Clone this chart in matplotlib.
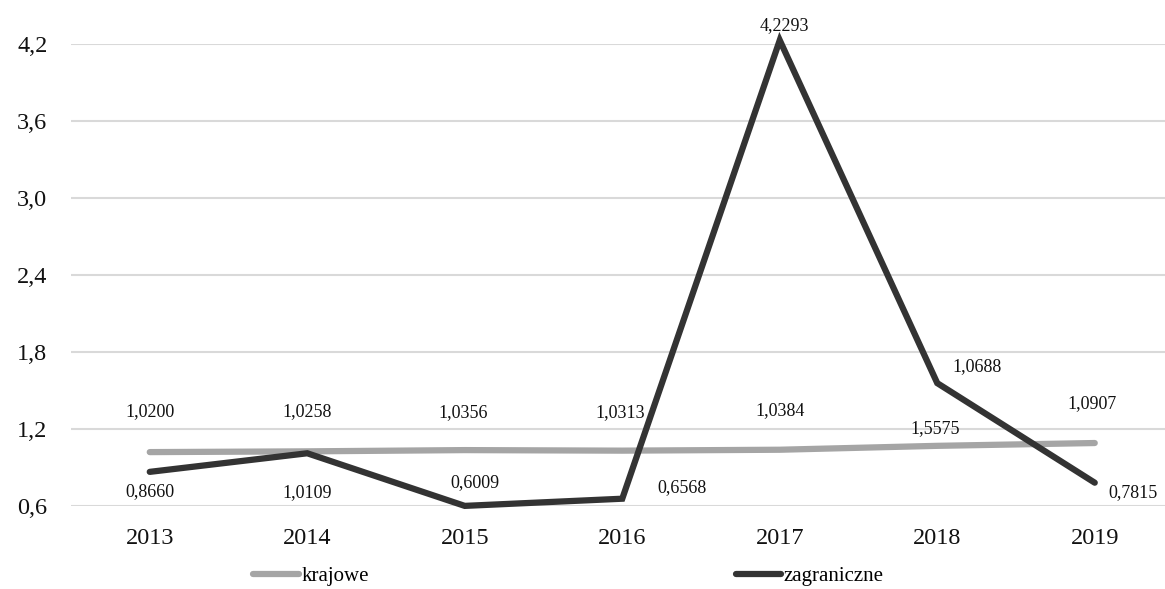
import matplotlib
matplotlib.use("Agg")
import matplotlib.pyplot as plt
from matplotlib.ticker import FuncFormatter, MultipleLocator

years = ["2013", "2014", "2015", "2016", "2017", "2018", "2019"]
krajowe = [1.0200, 1.0258, 1.0356, 1.0313, 1.0384, 1.0688, 1.0907]
zagraniczne = [0.8660, 1.0109, 0.6009, 0.6568, 4.2293, 1.5575, 0.7815]

# label offsets in pixels (dx, dy), as placed in the original chart
off_kraj = [(0, 41), (0, 40), (-2, 38), (-2, 38), (0, 39), (40, 79), (-3, 39)]
off_zag = [(0, -20), (0, -39), (10, 23), (60, 11), (5, 15), (-2, -45), (38, -10)]

plt.rcParams['font.family'] = ['Liberation Serif', 'DejaVu Serif']

fig = plt.figure(figsize=(11.65, 5.89), dpi=100)
ax = fig.add_axes([71 / 1165, 83 / 589, 1102.5 / 1165, 462 / 589])

x = range(len(years))
l1, = ax.plot(x, krajowe, color='#a5a5a5', linewidth=4.5, clip_on=False,
              solid_capstyle='round', label='krajowe', zorder=3)
l2, = ax.plot(x, zagraniczne, color='#333333', linewidth=4.5, clip_on=False,
              solid_capstyle='round', solid_joinstyle='miter',
              label='zagraniczne', zorder=4)

def fmt(v):
    return f'{v:.4f}'.replace('.', ',')

for i in x:
    dx, dy = off_kraj[i]
    ax.annotate(fmt(krajowe[i]), (i, krajowe[i]), xytext=(dx * 0.72, dy * 0.72),
                textcoords='offset points', ha='center', va='center',
                fontsize=13, color='#111111', zorder=5, annotation_clip=False)
    dx, dy = off_zag[i]
    ax.annotate(fmt(zagraniczne[i]), (i, zagraniczne[i]), xytext=(dx * 0.72, dy * 0.72),
                textcoords='offset points', ha='center', va='center',
                fontsize=13, color='#111111', zorder=5, annotation_clip=False)

ax.set_xlim(-0.5, 6.5)
ax.set_ylim(0.6, 4.2)
ax.yaxis.set_major_locator(MultipleLocator(0.6))
ax.yaxis.set_major_formatter(FuncFormatter(lambda v, p: f'{v:.1f}'.replace('.', ',')))
ax.set_xticks(list(x))
ax.set_xticklabels(years)
ax.tick_params(axis='both', length=0, labelsize=17.5, colors='#111111')
ax.tick_params(axis='y', pad=17)
ax.tick_params(axis='x', pad=16)
ax.grid(axis='y', color='#d9d9d9', linewidth=1.5)
ax.set_axisbelow(True)
for s in ax.spines.values():
    s.set_visible(False)

fig.legend(handles=[l1, l2], loc='center left', bbox_to_anchor=(253 / 1165, 13 / 589),
           ncol=2, frameon=False, fontsize=15, handlelength=2.2, handletextpad=0.12,
           columnspacing=17.6, borderpad=0, borderaxespad=0)

fig.savefig('out.png', dpi=100)
